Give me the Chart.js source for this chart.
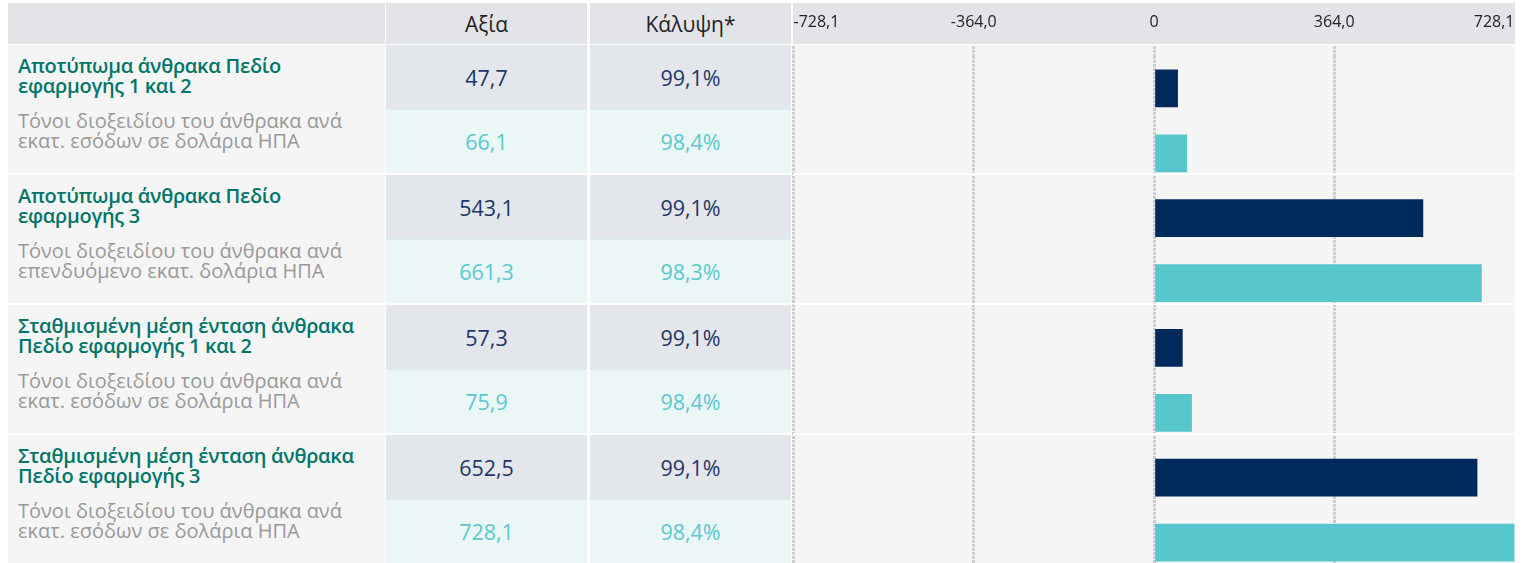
<!DOCTYPE html>
<html>
<head>
<meta charset="utf-8">
<script src="https://cdn.jsdelivr.net/npm/chart.js@4.4.1/dist/chart.umd.min.js"></script>
<style>
  html, body { margin: 0; padding: 0; background: #fff; }
  body { width: 1525px; height: 563px; overflow: hidden; position: relative; font-family: "Open Sans", "Noto Sans", sans-serif; }
  .cell { position: absolute; box-sizing: border-box; }
  .col0 { left: 8px; width: 377px; }
  .col1 { left: 386px; width: 201px; }
  .col2 { left: 590px; width: 201px; }
  .col3 { left: 793px; width: 722px; }
  .hdr { top: 3px; height: 41px; background: #e2e4e8; color: #222; font-size: 21px; display: flex; align-items: center; justify-content: center; }
  .lbl { background: #f5f5f5; padding: 11px 10px 0 10px; white-space: pre-line; }
  .title { color: #00766a; font-weight: 600; font-size: 20px; line-height: 20px; letter-spacing: -0.3px; }
  .unit { color: #999; font-size: 20px; line-height: 20px; margin-top: 15px; }
  .val { font-size: 21.5px; display: flex; align-items: center; justify-content: center; }
  .dark { background: #e3e6ea; color: #1d3665; }
  .light { background: #ebf7f7; color: #5ac8cf; border-top: 1px solid #d8eef0; }
  .plotbg { background: #f5f5f5; }
  .sep { background: #fff; height: 2px; z-index: 5; }
  #chart { position: absolute; left: 778px; top: -1px; z-index: 3; }
</style>
</head>
<body>
<canvas id="chart" width="752" height="576"></canvas>
<script>
// chart data
const groupTitles = [
    'Αποτύπωμα άνθρακα Πεδίο\nεφαρμογής 1 και 2',
    'Αποτύπωμα άνθρακα Πεδίο\nεφαρμογής 3',
    'Σταθμισμένη μέση ένταση άνθρακα\nΠεδίο εφαρμογής 1 και 2',
    'Σταθμισμένη μέση ένταση άνθρακα\nΠεδίο εφαρμογής 3'
];
const unitLabels = [
    'Τόνοι διοξειδίου του άνθρακα ανά\nεκατ. εσόδων σε δολάρια ΗΠΑ',
    'Τόνοι διοξειδίου του άνθρακα ανά\nεπενδυόμενο εκατ. δολάρια ΗΠΑ',
    'Τόνοι διοξειδίου του άνθρακα ανά\nεκατ. εσόδων σε δολάρια ΗΠΑ',
    'Τόνοι διοξειδίου του άνθρακα ανά\nεκατ. εσόδων σε δολάρια ΗΠΑ'
];
const columnHeaders = ['Αξία', 'Κάλυψη*'];
const portfolioValues = [47.7, 543.1, 57.3, 652.5];
const benchmarkValues = [66.1, 661.3, 75.9, 728.1];
const portfolioCoverage = [99.1, 99.1, 99.1, 99.1];
const benchmarkCoverage = [98.4, 98.3, 98.4, 98.4];
const tickValues = [-728.1, -364.0, 0, 364.0, 728.1];

const darkColor = '#002a5c';
const lightColor = '#57c6cd';

function fmt(v) {
    if (v === 0) return '0';
    return v.toFixed(1).replace('.', ',');
}

function addCell(cls, top, height, text) {
    const d = document.createElement('div');
    d.className = 'cell ' + cls;
    d.style.top = top + 'px';
    d.style.height = height + 'px';
    if (text !== undefined) d.textContent = text;
    document.body.appendChild(d);
    return d;
}

// header row
addCell('hdr col0', 3, 41);
addCell('hdr col1', 3, 41, columnHeaders[0]);
addCell('hdr col2', 3, 41, columnHeaders[1]);
addCell('hdr col3', 3, 41);
addCell('plotbg col3', 45, 520);

// table rows
groupTitles.forEach((title, i) => {
    const top = 45 + i * 130;
    const lbl = addCell('lbl col0', top, 128);
    lbl.innerHTML = '<div class="title"></div><div class="unit"></div>';
    lbl.children[0].textContent = title;
    lbl.children[1].textContent = unitLabels[i];

    addCell('val dark col1', top, 64, fmt(portfolioValues[i]));
    addCell('val dark col2', top, 64, fmt(portfolioCoverage[i]) + '%');
    addCell('val light col1', top + 64, 64, fmt(benchmarkValues[i]));
    addCell('val light col2', top + 64, 64, fmt(benchmarkCoverage[i]) + '%');

    if (i > 0) addCell('sep col3', top - 2, 2);
});

// one row per bar: portfolio then benchmark for each group
const rowLabels = [];
const darkData = [];
const lightData = [];
groupTitles.forEach((t, i) => {
    rowLabels.push(t + ' a', t + ' b');
    darkData.push(portfolioValues[i], null);
    lightData.push(null, benchmarkValues[i]);
});

// hide the grid line on the right edge
const gridColor = c => c.index === tickValues.length - 1 ? 'rgba(0,0,0,0)' : '#cdcdcd';

const ctx = document.getElementById('chart').getContext('2d');
new Chart(ctx, {
    type: 'bar',
    data: {
        labels: rowLabels,
        datasets: [{
            data: darkData,
            backgroundColor: darkColor,
            barThickness: 37,
            grouped: false
        }, {
            data: lightData,
            backgroundColor: lightColor,
            barThickness: 37,
            grouped: false
        }]
    },
    options: {
        indexAxis: 'y',
        responsive: false,
        animation: false,
        events: [],
        layout: { padding: 0 },
        plugins: {
            legend: { display: false },
            tooltip: { enabled: false }
        },
        scales: {
            x: {
                position: 'top',
                min: tickValues[0],
                max: tickValues[tickValues.length - 1],
                afterBuildTicks: function (scale) {
                    scale.ticks = tickValues.map(v => ({ value: v }));
                },
                border: { display: false, dash: [3, 1] },
                grid: {
                    color: gridColor,
                    tickColor: gridColor,
                    lineWidth: 3,
                    tickWidth: 3,
                    tickBorderDash: [3, 1],
                    drawTicks: true,
                    tickLength: 10
                },
                ticks: {
                    align: 'inner',
                    maxRotation: 0,
                    padding: 15.5,
                    color: '#222',
                    font: { family: '"Liberation Sans Narrow", "Open Sans", sans-serif', size: 16, lineHeight: 1 },
                    callback: function (value) {
                        return fmt(value);
                    }
                }
            },
            y: {
                display: false,
                grid: { display: false }
            }
        }
    }
});
</script>
</body>
</html>
